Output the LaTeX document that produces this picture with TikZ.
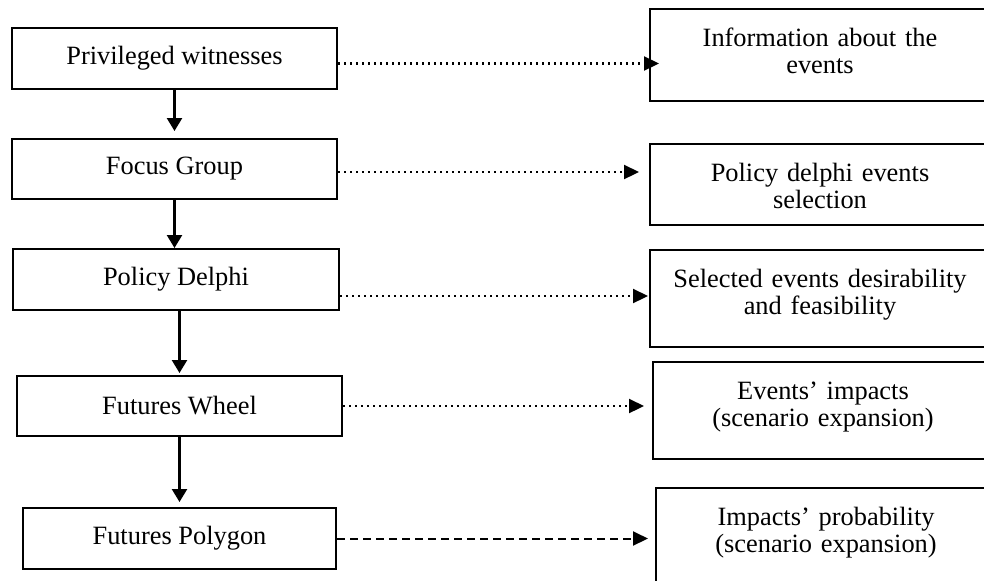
\documentclass[tikz,border=0pt]{standalone}
\usepackage{fontspec}
\setmainfont{Liberation Serif}
\usetikzlibrary{arrows.meta,positioning}

\begin{document}
\begin{tikzpicture}[x=0.5pt, y=-0.5pt,
    every node/.style={font=\fontsize{13.2pt}{13.5pt}\selectfont},
    stage/.style={draw, line width=1pt, minimum width=162.5pt, minimum height=30.5pt, inner sep=0pt},
    outcome/.style={draw, line width=1pt, anchor=north west, inner sep=0pt, text width=170pt, align=center, text height=18.5pt},
    flow/.style={-{Triangle[length=6.5pt,width=7.5pt]}, line width=1.2pt},
    link/.style={-{Triangle[length=7.5pt,width=7pt]}, line width=1.1pt, dash pattern=on 1.1pt off 1.9pt},
    guess/.style={-{Triangle[length=7.5pt,width=7pt]}, line width=1pt, dash pattern=on 4pt off 2.5pt}]
    \path[use as bounding box, clip] (0,0) rectangle (984,580);

    \node[stage] (priv) at (174.5,58.5) {Privileged witnesses};
    \node[stage, minimum height=30pt] (focus) at (174.5,169) {Focus Group};
    \node[stage, minimum width=163pt] (delphi) at (176,279.5) {Policy Delphi};
    \node[stage, minimum height=30pt] (wheel) at (179.5,406) {Futures Wheel};
    \node[stage, minimum width=156.5pt] (polygon) at (179.5,538.5) {Futures Polygon};

    \node[outcome, text depth=27.5pt] (info) at (649,8) {Information about the\\events};
    \node[outcome, text depth=22pt] (selection) at (649,143) {Policy delphi events\\selection};
    \node[outcome, text depth=30pt] (desirability) at (649,249) {Selected events desirability\\and feasibility};
    \node[outcome, text depth=30pt] (impacts) at (652,361) {Events’ impacts\\(scenario expansion)};
    \node[outcome, text depth=31.5pt] (probability) at (655,487) {Impacts’ probability\\(scenario expansion)};

    \draw[flow, shorten >=3.5pt] (priv.south) -- (focus.north);
    \draw[flow] (focus.south) -- (focus.south |- delphi.north);
    \draw[flow, shorten >=1pt] (delphi.south -| wheel.north) -- (wheel.north);
    \draw[flow, shorten >=2.5pt] (wheel.south) -- (polygon.north);

    \draw[link, shorten >=-5pt] ([yshift=-2.5pt]priv.east) -- ([yshift=-2.5pt]priv.east -| info.west);
    \draw[link, shorten >=5pt] ([yshift=-1.5pt]focus.east) -- ([yshift=-1.5pt]focus.east -| selection.west);
    \draw[link, shorten >=0.5pt] ([yshift=-8.25pt]delphi.east) -- ([yshift=-8.25pt]delphi.east -| desirability.west);
    \draw[link, shorten >=4pt] (wheel.east) -- (wheel.east -| impacts.west);
    \draw[guess, shorten >=3.5pt] (polygon.east) -- (polygon.east -| probability.west);
\end{tikzpicture}
\end{document}
